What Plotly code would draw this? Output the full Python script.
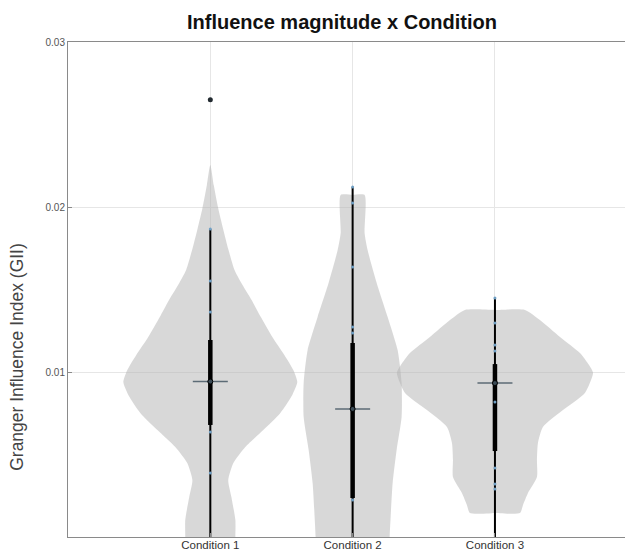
import plotly.graph_objects as go

# ---------------- data ----------------
conditions = ["Condition 1", "Condition 2", "Condition 3"]
positions = [1, 2, 3]

# violin density profiles: GII value and half-width (category units)
v1_gii = [0.02255, 0.02133, 0.01994, 0.01867, 0.01739, 0.01618, 0.01539, 0.01436, 0.01333,
          0.01212, 0.01103, 0.01012, 0.00939, 0.00861, 0.00752, 0.00648, 0.00545, 0.00448,
          0.00345, 0.00242, 0.00103, 0.0, -0.001]
v1_w = [0.0, 0.024, 0.055, 0.090, 0.128, 0.170, 0.218, 0.290, 0.355,
        0.436, 0.520, 0.583, 0.611, 0.576, 0.492, 0.372, 0.246, 0.162,
        0.126, 0.148, 0.176, 0.176, 0.176]

v2_gii = [0.02073, 0.02073, 0.01842, 0.01739, 0.01539, 0.01333, 0.01133, 0.00933, 0.00727,
          0.00527, 0.00327, 0.00121, 0.0, -0.001]
v2_w = [0.0, 0.084, 0.084, 0.105, 0.169, 0.246, 0.316, 0.344, 0.344,
        0.309, 0.281, 0.267, 0.260, 0.258]

v3_gii = [0.01376, 0.01376, 0.01315, 0.01212, 0.01115, 0.01042, 0.00994, 0.00873, 0.0077,
          0.00667, 0.0057, 0.00467, 0.00364, 0.00267, 0.00194, 0.00145, 0.00145]
v3_w = [0.0, 0.211, 0.316, 0.457, 0.597, 0.661, 0.689, 0.632, 0.478,
        0.337, 0.302, 0.295, 0.295, 0.232, 0.197, 0.176, 0.0]

profiles_gii = [v1_gii, v2_gii, v3_gii]
profiles_w = [v1_w, v2_w, v3_w]

# box summary
whisker_low = [0.0, 0.0, 0.0]
whisker_high = [0.01867, 0.02121, 0.01448]
q1 = [0.00679, 0.00236, 0.00521]
q3 = [0.01194, 0.01176, 0.01048]
medians = [0.00942, 0.00776, 0.00933]
cross_half = 0.123

# individual observations visible along the whiskers
pts1 = [0.01867, 0.01552, 0.01364, 0.00636, 0.00388]
pts2 = [0.02121, 0.02024, 0.01636, 0.01273, 0.01236, 0.00224]
pts3 = [0.01448, 0.01297, 0.01164, 0.01127, 0.00818, 0.00418, 0.00321, 0.00291]
points = [pts1, pts2, pts3]

outlier_x = [1]
outlier_y = [0.0265]

y_ticks = [0.01, 0.02, 0.03]
y_ticktext = ["0.01", "0.02", "0.03"]

# ---------------- figure ----------------
fig = go.Figure()

fill_col = "rgba(178,178,178,0.5)"
for c, g, w in zip(positions, profiles_gii, profiles_w):
    xs = [c + wi for wi in w] + [c - wi for wi in reversed(w)]
    ys = list(g) + list(reversed(g))
    fig.add_trace(go.Scatter(x=xs, y=ys, mode="lines", fill="toself",
                             fillcolor=fill_col, line=dict(width=0, shape="spline", smoothing=0.6),
                             hoverinfo="skip", showlegend=False))

for i, c in enumerate(positions):
    # whisker
    fig.add_trace(go.Scatter(x=[c, c], y=[whisker_low[i], whisker_high[i]], mode="lines",
                             line=dict(color="black", width=2), showlegend=False,
                             hoverinfo="skip"))
    # interquartile box
    fig.add_trace(go.Scatter(x=[c, c], y=[q1[i], q3[i]], mode="lines",
                             line=dict(color="black", width=4.5), showlegend=False,
                             hoverinfo="skip"))
    # data points
    fig.add_trace(go.Scatter(x=[c] * len(points[i]), y=points[i], mode="markers",
                             marker=dict(color="#6f9fc4", size=3), showlegend=False))
    # median cross
    fig.add_trace(go.Scatter(x=[c - cross_half, c + cross_half], y=[medians[i], medians[i]],
                             mode="lines", line=dict(color="#5c6b76", width=1.5),
                             showlegend=False, hoverinfo="skip"))
    fig.add_trace(go.Scatter(x=[c], y=[medians[i]], mode="markers",
                             marker=dict(color="#3a4a55", size=5,
                                         line=dict(color="black", width=1)),
                             showlegend=False))

fig.add_trace(go.Scatter(x=outlier_x, y=outlier_y, mode="markers",
                         marker=dict(color="#222a30", size=5), showlegend=False))

fig.update_layout(
    width=625, height=544,
    margin=dict(l=60, r=0, t=34, b=15),
    paper_bgcolor="white", plot_bgcolor="white",
    font=dict(family="Liberation Sans, Arial, sans-serif", color="#333"),
    showlegend=False,
    annotations=[
        dict(text="<b>Influence magnitude x Condition</b>", xref="paper", yref="paper",
             x=0.485, y=1.0404, xanchor="center", yanchor="middle", showarrow=False,
             font=dict(size=20, color="#111")),
        dict(text="Granger Influence Index (GII)", xref="paper", yref="paper",
             x=-0.0903, y=0.364, xanchor="center", yanchor="middle", showarrow=False,
             textangle=-90, font=dict(size=17.5, color="#444")),
    ],
)

fig.update_xaxes(range=[0, 3.97], tickvals=positions, ticktext=conditions,
                 showgrid=True, gridcolor="#e6e6e6", gridwidth=1, zeroline=False,
                 showline=True, mirror=True, linecolor="#8a8a8a", linewidth=1,
                 ticks="inside", ticklen=4, tickcolor="#8a8a8a", automargin=False,
                 ticklabelstandoff=-3,
                 tickfont=dict(size=11.5, color="#333"))
fig.update_yaxes(range=[0, 0.03], tickvals=y_ticks, ticktext=y_ticktext,
                 showgrid=True, gridcolor="#e6e6e6", gridwidth=1, zeroline=False,
                 showline=True, mirror=True, linecolor="#8a8a8a", linewidth=1,
                 ticks="inside", ticklen=4, tickcolor="#8a8a8a", automargin=False,
                 tickfont=dict(size=10, color="#555"))

fig.write_html("out.html")
